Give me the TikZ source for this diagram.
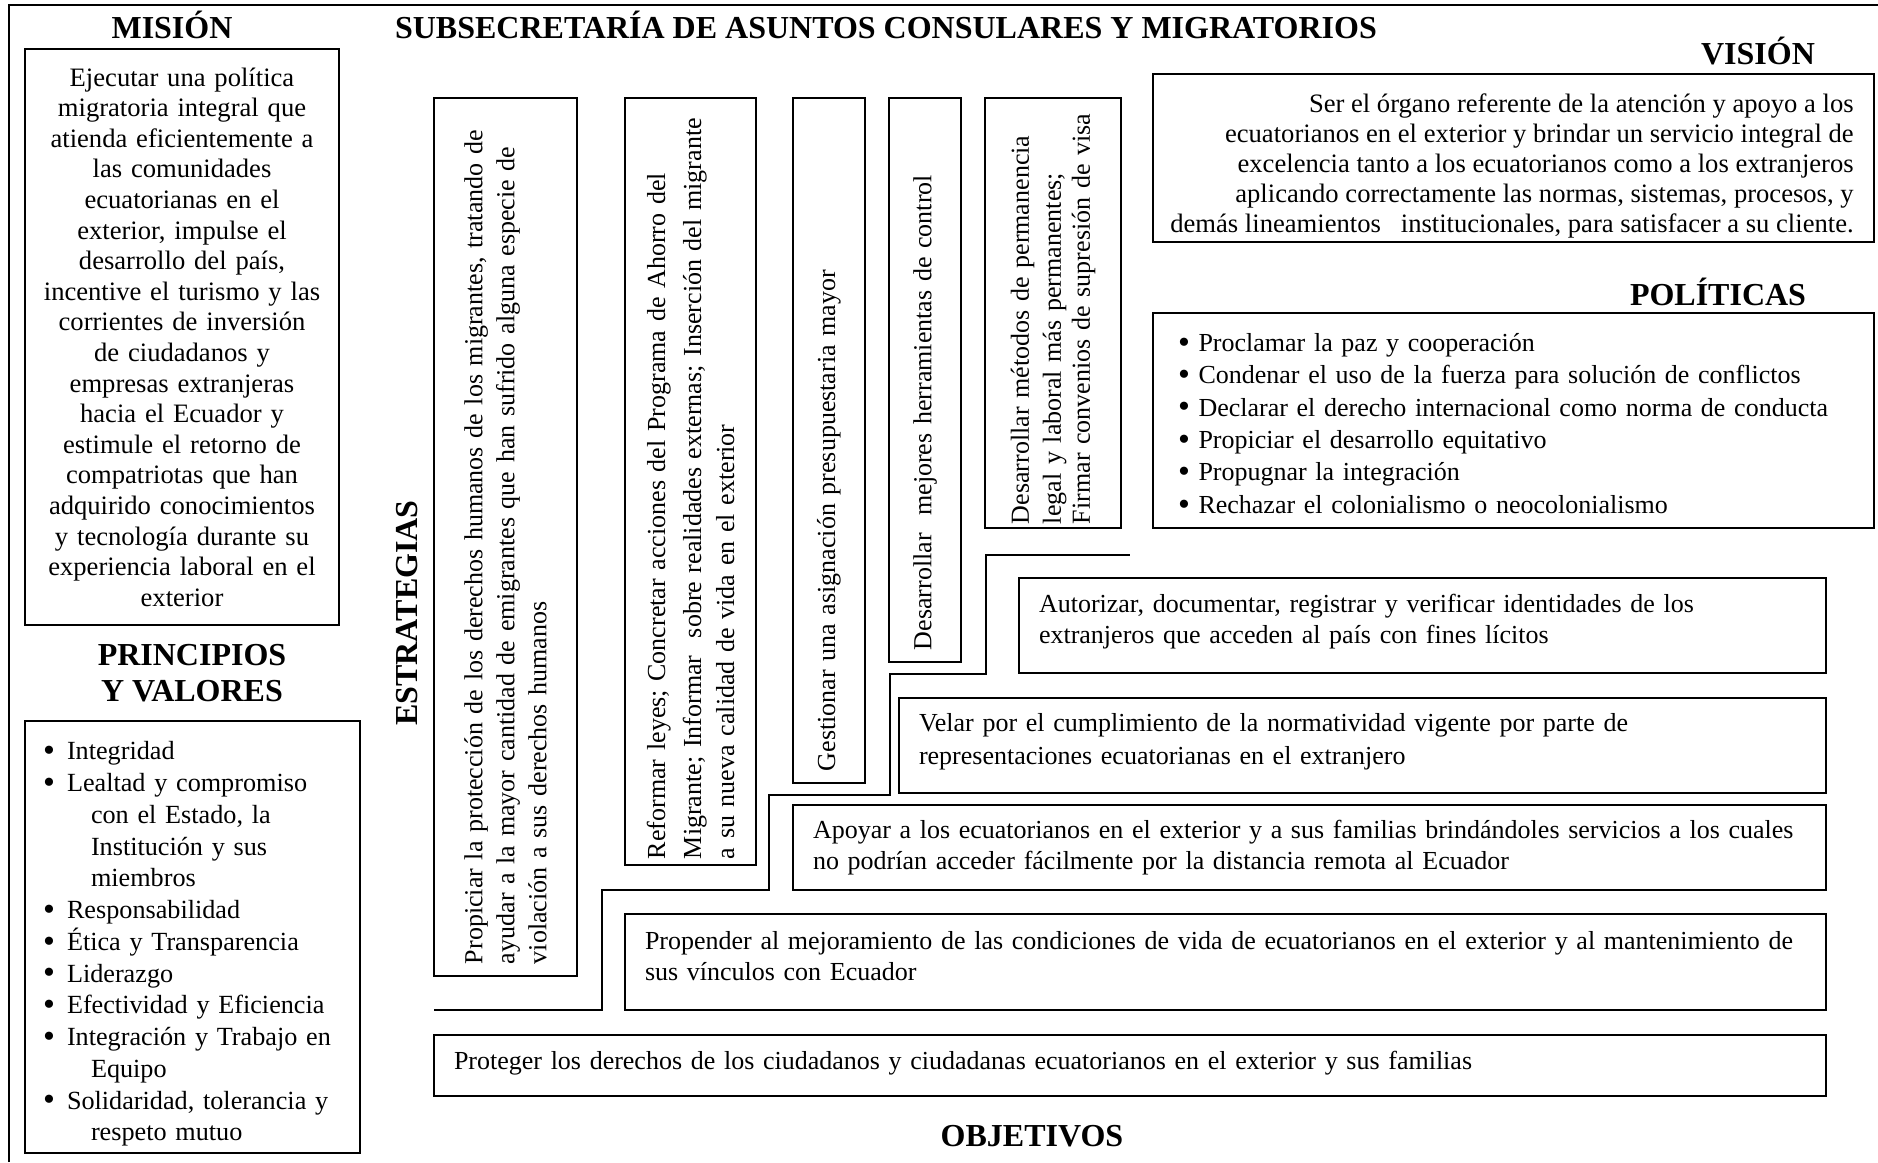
\documentclass[tikz,border=0pt]{standalone}
\usepackage{fontspec}
\setmainfont{Liberation Serif}

\newcommand{\bul}[1][12pt]{\makebox[#1][l]{\raisebox{-0.9pt}{\fontsize{17}{17}\selectfont\textbullet}}}

\begin{document}
\begin{tikzpicture}[
    x=0.5pt, y=-0.5pt,
    heading/.style={font=\fontsize{16}{18}\selectfont\bfseries, align=center, anchor=base, inner sep=0pt},
    textbox/.style={rectangle, draw=black, line width=1pt, font=\fontsize{13}{15.5}\selectfont},
    strategy/.style={textbox, rotate=90, align=left, inner xsep=6pt},
    objective/.style={textbox, align=left, inner xsep=10pt},
    listbox/.style={textbox, align=left},
    outerframe/.style={draw=black, line width=1.3pt},
    stair/.style={draw=black, line width=1pt}
]
\useasboundingbox (0,0) rectangle (1878,1162);

% Outer frame
\draw[outerframe] (9,1162) |- (1878,5);

% Titles
\node[heading] (t_mision) at (172,38) {MISIÓN};
\node[heading] (t_sub) at (886,38) {SUBSECRETARÍA DE ASUNTOS CONSULARES Y MIGRATORIOS};
\node[heading] (t_vision) at (1758,64) {VISIÓN};
\node[heading] (t_pol) at (1718,305) {POLÍTICAS};
\node[heading, anchor=center] (t_princ) at (192,673) {PRINCIPIOS\\Y VALORES};
\node[heading, anchor=center, rotate=90] (t_estr) at (407,613) {ESTRATEGIAS};
\node[heading] (t_obj) at (1032,1146) {OBJETIVOS};

% Mision
\node[textbox, align=center, minimum width=157pt, minimum height=288pt, text width=145pt,
      font=\fontsize{13.3}{15.3}\selectfont] (mision) at (182,337) {
Ejecutar una política\\
migratoria integral que\\
atienda eficientemente a\\
las comunidades\\
ecuatorianas en el\\
exterior, impulse el\\
desarrollo del país,\\
incentive el turismo y las\\
corrientes de inversión\\
de ciudadanos y\\
empresas extranjeras\\
hacia el Ecuador y\\
estimule el retorno de\\
compatriotas que han\\
adquirido conocimientos\\
y tecnología durante su\\
experiencia laboral en el\\
exterior};

% Principios y valores
\node[listbox, minimum width=167.5pt, minimum height=215pt, text width=149.5pt, inner xsep=9pt,
      font=\fontsize{13.1}{15.87}\selectfont] (princ) at (192.5,937) {
\rule{0pt}{16.1pt}\bul Integridad\\
\bul Lealtad y compromiso\\
\hspace*{24pt}con el Estado, la\\
\hspace*{24pt}Institución y sus\\
\hspace*{24pt}miembros\\
\bul Responsabilidad\\
\bul Ética y Transparencia\\
\bul Liderazgo\\
\bul Efectividad y Eficiencia\\
\bul Integración y Trabajo en\\
\hspace*{24pt}Equipo\\
\bul Solidaridad, tolerancia y\\
\hspace*{24pt}respeto mutuo};

% Vision
\node[textbox, minimum width=360.5pt, minimum height=84pt] (vision) at (1513.5,158) {};
\node[anchor=east, align=right, inner sep=0pt, font=\fontsize{13.3}{15.1}\selectfont] (vision_txt) at (1854,166) {
Ser el órgano referente de la atención y apoyo a los\\
ecuatorianos en el exterior y brindar un servicio integral de\\
excelencia tanto a los ecuatorianos como a los extranjeros\\
aplicando correctamente las normas, sistemas, procesos, y\\
demás lineamientos\ \ \ institucionales, para satisfacer a su cliente.};

% Politicas
\node[listbox, minimum width=360.5pt, minimum height=107.5pt, text width=335.5pt, inner xsep=12.5pt,
      font=\fontsize{13}{16.2}\selectfont] (pol) at (1513.5,420.5) {
\rule{0pt}{12.7pt}\bul[10.25pt]Proclamar la paz y cooperación\\
\bul[10.25pt]Condenar el uso de la fuerza para solución de conflictos\\
\bul[10.25pt]Declarar el derecho internacional como norma de conducta\\
\bul[10.25pt]Propiciar el desarrollo equitativo\\
\bul[10.25pt]Propugnar la integración\\
\bul[10.25pt]Rechazar el colonialismo o neocolonialismo};

% Estrategias
\node[strategy, minimum width=439pt, minimum height=71.5pt, text width=427pt,
      font=\fontsize{13}{16}\selectfont] (e_prot) at (505.5,537) {
Propiciar la protección de los derechos humanos de los migrantes, tratando de\\
ayudar a la mayor cantidad de emigrantes que han sufrido alguna especie de\\
violación a sus derechos humanos};
\node[strategy, minimum width=383.5pt, minimum height=65.5pt, text width=377.5pt, inner xsep=3pt,
      font=\fontsize{13}{16.5}\selectfont] (e_ley) at (690.5,481.5) {
Reformar leyes; Concretar acciones del Programa de Ahorro del\\[1.5pt]
Migrante; Informar\ \ sobre realidades externas; Inserción del migrante\\
a su nueva calidad de vida en el exterior};
\node[strategy, minimum width=342.5pt, minimum height=36pt, text width=330.5pt] (e_pres) at (829,440.5) {
Gestionar una asignación presupuestaria mayor};
\node[strategy, minimum width=282pt, minimum height=36pt, text width=270pt] (e_ctrl) at (925,380) {
Desarrollar\ \ mejores herramientas de control};
\node[strategy, minimum width=215pt, minimum height=68pt, text width=211pt, inner xsep=2pt,
      font=\fontsize{13}{15.5}\selectfont] (e_perm) at (1053,313) {
Desarrollar métodos de permanencia\\[0.5pt]
legal y laboral más permanentes;\\[-1pt]
Firmar convenios de supresión de visa};

% Stair line between strategies and objectives
\draw[stair] (434,1010) -| (602,890) -| (769,795) -| (890,674) -| (986,555) -- (1130,555);

% Objetivos
\node[objective, minimum width=403.5pt, minimum height=47.5pt, text width=383.5pt] (o_aut) at (1422.5,625.5) {
Autorizar, documentar, registrar y verificar identidades de los\\
extranjeros que acceden al país con fines lícitos\rule[-6.4pt]{0pt}{6.4pt}};
\node[objective, minimum width=463.5pt, minimum height=47.5pt, text width=443.5pt,
      font=\fontsize{13}{16.5}\selectfont] (o_vel) at (1362.5,745.5) {
Velar por el cumplimiento de la normatividad vigente por parte de\\
representaciones ecuatorianas en el extranjero\rule[-6.4pt]{0pt}{6.4pt}};
\node[objective, minimum width=516.5pt, minimum height=42.5pt, text width=496.5pt] (o_apo) at (1309.5,847.5) {
Apoyar a los ecuatorianos en el exterior y a sus familias brindándoles servicios a los cuales\\
no podrían acceder fácilmente por la distancia remota al Ecuador};
\node[objective, minimum width=600.5pt, minimum height=48pt, text width=580.5pt] (o_pro) at (1225.5,962) {
Propender al mejoramiento de las condiciones de vida de ecuatorianos en el exterior y al mantenimiento de\\
sus vínculos con Ecuador\rule[-6pt]{0pt}{6pt}};
\node[objective, minimum width=696pt, minimum height=30.5pt, text width=676pt] (o_der) at (1130,1065.5) {
Proteger los derechos de los ciudadanos y ciudadanas ecuatorianos en el exterior y sus familias\rule[-5.2pt]{0pt}{5.2pt}};

\end{tikzpicture}
\end{document}
